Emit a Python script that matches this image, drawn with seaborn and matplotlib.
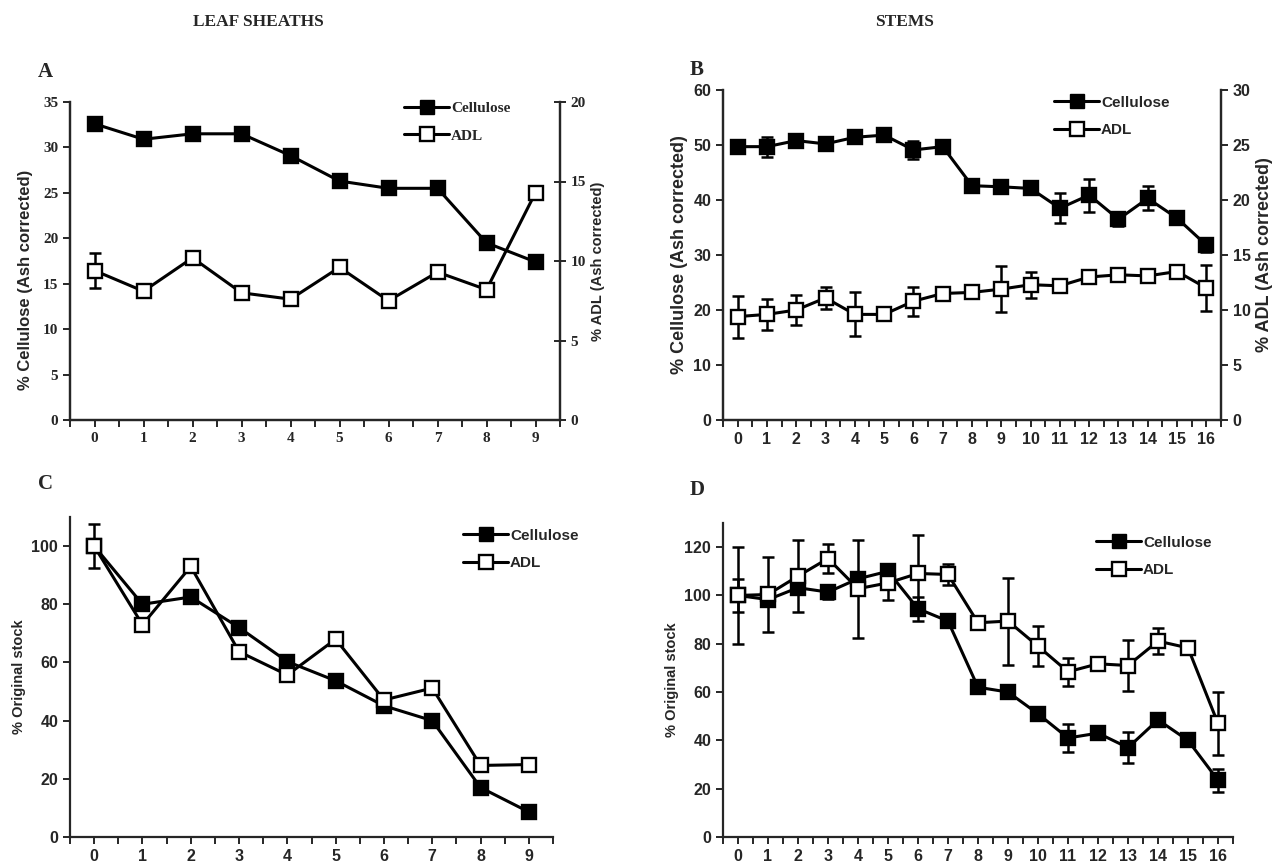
import matplotlib
matplotlib.use('Agg')
import matplotlib.pyplot as plt
from matplotlib.lines import Line2D
import seaborn as sns
import numpy as np

# ---------------- data ----------------
A_days = list(range(10))
A_cellulose = [32.6, 30.9, 31.5, 31.5, 29.1, 26.3, 25.5, 25.5, 19.5, 17.4]
A_adl = [9.4, 8.1, 10.2, 8.0, 7.6, 9.6, 7.5, 9.3, 8.2, 14.3]
A_adl_err = [1.1, 0, 0, 0, 0, 0, 0, 0, 0, 0]

B_days = list(range(17))
B_cellulose = [49.7, 49.7, 50.8, 50.2, 51.4, 51.8, 49.1, 49.7, 42.6, 42.4, 42.1,
               38.5, 40.9, 36.5, 40.3, 36.7, 31.8]
B_cellulose_err = [1.2, 1.8, 0.8, 0.6, 0.6, 0.6, 1.6, 0.5, 0.5, 0.5, 0.5,
                   2.7, 3.0, 1.2, 2.2, 0.5, 1.2]
B_adl = [9.4, 9.6, 10.0, 11.1, 9.6, 9.6, 10.8, 11.5, 11.6, 11.9, 12.3,
         12.2, 13.0, 13.2, 13.1, 13.5, 12.0]
B_adl_err = [1.9, 1.4, 1.4, 1.0, 2.0, 0, 1.3, 0, 0, 2.1, 1.2,
             0, 0, 0, 0, 0, 2.1]

C_days = list(range(10))
C_cellulose = [100, 80, 82.5, 72, 60.3, 53.7, 45.1, 40, 17, 8.6]
C_adl = [100, 73, 93, 63.7, 55.7, 68, 47.1, 51.2, 24.6, 24.9]
C_adl_err = [7.6, 0, 0, 0, 0, 0, 0, 0, 0, 0]

D_days = list(range(17))
D_cellulose = [100, 98.3, 103.2, 101.4, 106.9, 110, 94.5, 89.4, 62, 60, 51,
               41, 43, 37, 48.5, 40, 23.5]
D_cellulose_err = [6.7, 0, 0, 3, 0, 0, 5, 0, 0, 0, 0,
                   5.7, 0, 6.3, 0, 0, 4.8]
D_adl = [100, 100.4, 108, 115.3, 102.8, 105.2, 109.1, 108.7, 88.7, 89.4, 79,
         68.4, 71.7, 71, 81.1, 78.3, 47]
D_adl_err = [20, 15.5, 14.8, 6.2, 20.3, 6.9, 16, 4.4, 0, 18, 8.4,
             5.9, 0, 10.4, 5.5, 0, 13]

series_labels = ["Cellulose", "ADL"]

# ---------------- style ----------------
sns.set_style("ticks")
plt.rcParams['font.family'] = ['Liberation Sans', 'DejaVu Sans']
plt.rcParams['axes.linewidth'] = 1.6
plt.rcParams['xtick.major.width'] = 1.4
plt.rcParams['ytick.major.width'] = 1.4
plt.rcParams['xtick.minor.width'] = 1.4

W, H = 1273, 865
fig = plt.figure(figsize=(W / 100, H / 100), dpi=100)


def frac_rect(x0, y0, x1, y1):
    return [x0 / W, 1 - y1 / H, (x1 - x0) / W, (y1 - y0) / H]


def draw_series(ax, x, y, err, filled):
    if err is not None:
        ax.errorbar(x, y, yerr=err, fmt='none', ecolor='black', elinewidth=1.8,
                    capsize=4.5, capthick=1.8, zorder=2)
    sns.lineplot(x=x, y=y, ax=ax, color='black', lw=2.2, marker='s',
                 markersize=9.5, markerfacecolor='black' if filled else 'white',
                 markeredgecolor='black', markeredgewidth=1.7, zorder=3,
                 legend=False)


def style_x(ax, n, xmax):
    ax.set_xlim(-0.5, xmax)
    ax.set_xticks(range(n))
    ax.set_xticks(np.arange(-0.5, n, 1.0), minor=True)
    ax.tick_params(axis='x', which='both', direction='out', length=5, width=1.4)
    ax.set_xlabel("")


def font_labels(ax, family, size):
    for lab in ax.get_xticklabels() + ax.get_yticklabels():
        lab.set_fontfamily(family)
        lab.set_fontweight('bold')
        lab.set_fontsize(size)


def add_legend(ax, x, y, family, size):
    handles = [
        Line2D([], [], color='black', lw=2.2, marker='s', markersize=9.5,
               markerfacecolor='black', markeredgecolor='black'),
        Line2D([], [], color='black', lw=2.2, marker='s', markersize=9.5,
               markerfacecolor='white', markeredgecolor='black', markeredgewidth=1.7),
    ]
    leg = ax.legend(handles, series_labels, loc='upper left',
                    bbox_to_anchor=(x / W, 1 - y / H), bbox_transform=fig.transFigure,
                    frameon=False, borderpad=0, handlelength=3.0, handletextpad=0.1,
                    labelspacing=0.9, prop={'family': family, 'weight': 'bold', 'size': size})
    return leg


# ---------------- Panel A ----------------
axA = fig.add_axes(frac_rect(70, 102, 560, 420))
axA2 = axA.twinx()
draw_series(axA, A_days, A_cellulose, None, True)
draw_series(axA2, A_days, A_adl, A_adl_err, False)
axA.set_ylim(0, 35)
axA.set_yticks(range(0, 36, 5))
axA2.set_ylim(0, 20)
axA2.set_yticks(range(0, 21, 5))
style_x(axA, 10, 9.5)
axA.tick_params(axis='y', direction='out', length=5)
axA2.tick_params(axis='y', direction='inout', length=8)
axA.set_ylabel("% Cellulose (Ash corrected)", fontsize=12, fontweight='bold')
axA.yaxis.set_label_coords(-0.075, 0.44)
axA2.set_ylabel("% ADL (Ash corrected)", fontsize=10.5, fontweight='bold')
axA.spines['top'].set_visible(False)
axA2.spines['top'].set_visible(False)
font_labels(axA, 'Liberation Serif', 11)
font_labels(axA2, 'Liberation Serif', 11)
axA2.set_zorder(axA.get_zorder() + 1)
axA2.patch.set_visible(False)
add_legend(axA2, 396, 94, 'Liberation Serif', 11)

# ---------------- Panel B ----------------
axB = fig.add_axes(frac_rect(723, 90, 1221, 420))
axB2 = axB.twinx()
draw_series(axB, B_days, B_cellulose, B_cellulose_err, True)
draw_series(axB2, B_days, B_adl, B_adl_err, False)
axB.set_ylim(0, 60)
axB.set_yticks(range(0, 61, 10))
axB2.set_ylim(0, 30)
axB2.set_yticks(range(0, 31, 5))
style_x(axB, 17, 16.5)
axB.tick_params(axis='y', direction='out', length=5)
axB2.tick_params(axis='y', direction='out', length=5)
axB.set_ylabel("% Cellulose (Ash corrected)", fontsize=13, fontweight='bold')
axB2.set_ylabel("% ADL (Ash corrected)", fontsize=13, fontweight='bold')
axB.spines['top'].set_visible(False)
axB2.spines['top'].set_visible(False)
font_labels(axB, 'Liberation Sans', 11.5)
font_labels(axB2, 'Liberation Sans', 11.5)
axB2.set_zorder(axB.get_zorder() + 1)
axB2.patch.set_visible(False)
add_legend(axB2, 1046, 88, 'Liberation Sans', 11)

# ---------------- Panel C ----------------
axC = fig.add_axes(frac_rect(70, 517, 553, 837))
draw_series(axC, C_days, C_cellulose, None, True)
draw_series(axC, C_days, C_adl, C_adl_err, False)
axC.set_ylim(0, 110)
axC.set_yticks(range(0, 101, 20))
style_x(axC, 10, 9.35)
axC.tick_params(axis='y', direction='out', length=5)
axC.set_ylabel("% Original stock", fontsize=10.5, fontweight='bold')
sns.despine(ax=axC)
font_labels(axC, 'Liberation Sans', 11.5)
add_legend(axC, 455, 521, 'Liberation Sans', 11)

# ---------------- Panel D ----------------
axD = fig.add_axes(frac_rect(723, 523, 1233, 837))
draw_series(axD, D_days, D_cellulose, D_cellulose_err, True)
draw_series(axD, D_days, D_adl, D_adl_err, False)
axD.set_ylim(0, 130)
axD.set_yticks(range(0, 121, 20))
style_x(axD, 17, 16.4)
axD.tick_params(axis='y', direction='out', length=5)
axD.set_ylabel("% Original stock", fontsize=10.5, fontweight='bold')
sns.despine(ax=axD)
font_labels(axD, 'Liberation Sans', 11.5)
add_legend(axD, 1088, 528, 'Liberation Sans', 11)

# ---------------- titles / letters ----------------
serif_bold = dict(family='Liberation Serif', weight='bold')
fig.text(258 / W, 1 - 22 / H, "LEAF SHEATHS", ha='center', va='center', fontsize=12.5, **serif_bold)
fig.text(905 / W, 1 - 22 / H, "STEMS", ha='center', va='center', fontsize=12.5, **serif_bold)
fig.text(38 / W, 1 - 72 / H, "A", ha='left', va='center', fontsize=15, **serif_bold)
fig.text(690 / W, 1 - 70 / H, "B", ha='left', va='center', fontsize=15, **serif_bold)
fig.text(38 / W, 1 - 484 / H, "C", ha='left', va='center', fontsize=15, **serif_bold)
fig.text(690 / W, 1 - 490 / H, "D", ha='left', va='center', fontsize=15, **serif_bold)

fig.savefig("out.png", dpi=100)
